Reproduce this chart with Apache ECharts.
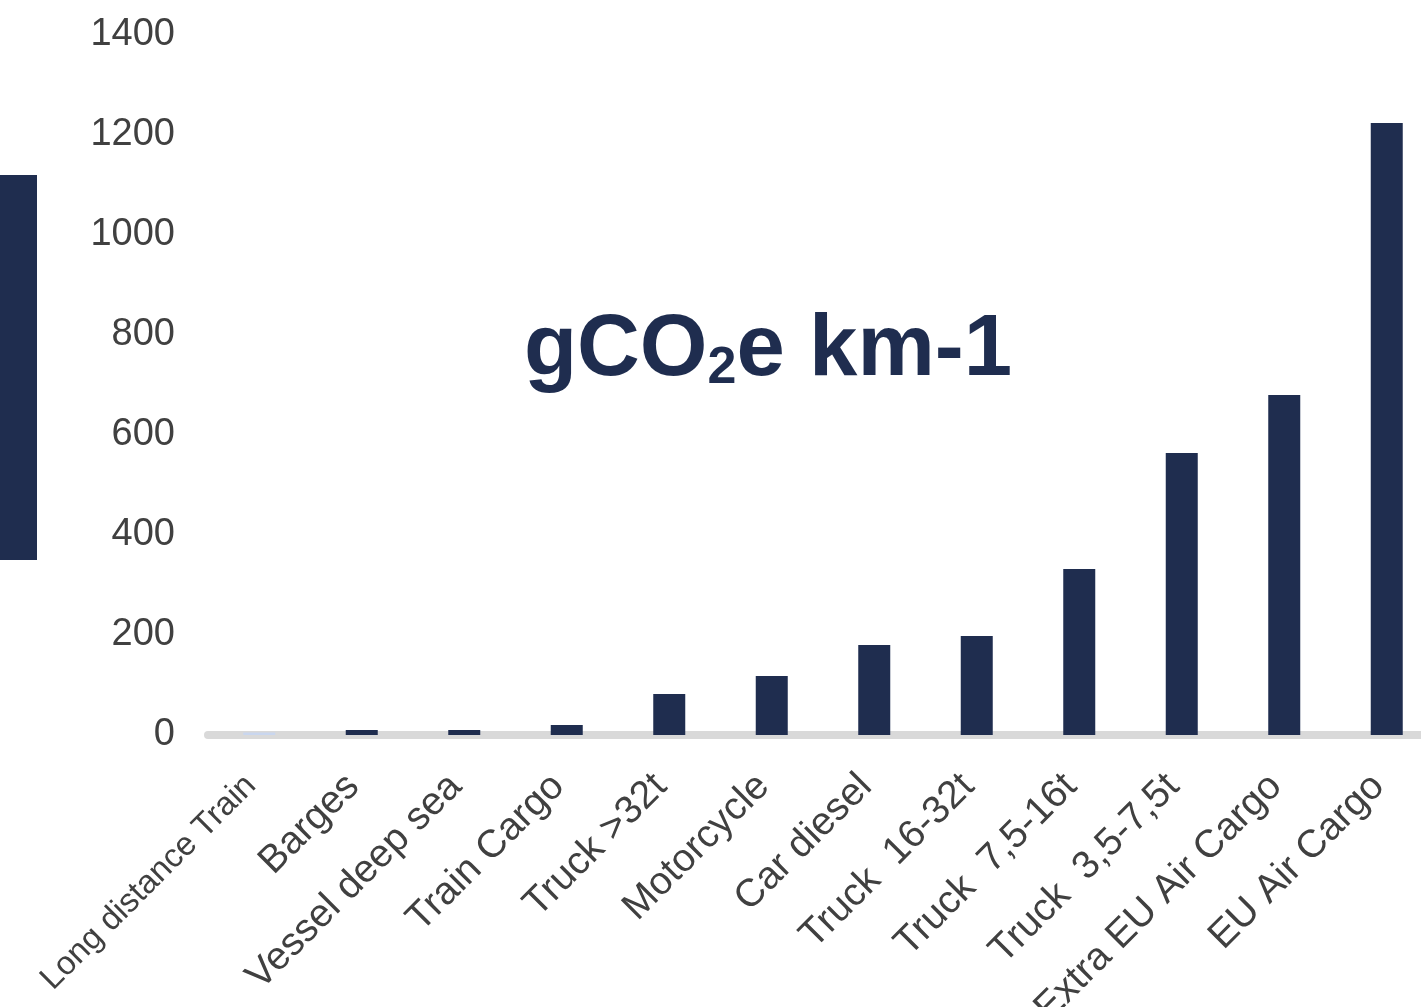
<!DOCTYPE html>
<html>
<head>
<meta charset="utf-8">
<script src="https://cdn.jsdelivr.net/npm/echarts@6/dist/echarts.min.js"></script>
<style>
html,body{margin:0;padding:0;background:#fff;}
#chart{width:1421px;height:1007px;}
</style>
</head>
<body>
<div id="chart"></div>
<script>
const categories = ['Long distance Train','Barges','Vessel deep sea','Train Cargo','Truck >32t','Motorcycle','Car diesel','Truck  16-32t','Truck  7,5-16t','Truck  3,5-7,5t','Extra EU Air Cargo','EU Air Cargo'];
const emissions = [5, 10, 10, 20, 82, 118, 180, 198, 332, 564, 680, 1224];
const yTicks = [0, 200, 400, 600, 800, 1000, 1200, 1400];

const FONT = 'Liberation Sans, Arial, sans-serif';
const NAVY = '#1f2d4f';

const chart = echarts.init(document.getElementById('chart'));
chart.setOption({
  animation: false,
  backgroundColor: '#ffffff',
  grid: { left: 208, right: -17, top: 35, bottom: 272, containLabel: false, outerBoundsMode: 'none' },
  xAxis: {
    type: 'category',
    data: categories,
    axisLine: { show: true, lineStyle: { color: '#d9d9d9', width: 8 } },
    axisTick: { show: false },
    axisLabel: {
      interval: 0,
      rotate: 45,
      margin: 37,
      padding: [0, 12, 0, 0],
      fontSize: 39,
      color: '#404040',
      fontFamily: FONT,
      formatter: function (v, i) { return i === 0 ? '{n|' + v + '}' : v; },
      rich: { n: { fontSize: 33, color: '#404040', fontFamily: FONT } }
    }
  },
  yAxis: {
    type: 'value',
    min: yTicks[0],
    max: yTicks[yTicks.length - 1],
    interval: yTicks[1] - yTicks[0],
    axisLine: { show: false },
    axisTick: { show: false },
    splitLine: { show: false },
    axisLabel: {
      fontSize: 38, color: '#404040', fontFamily: FONT, margin: 33, padding: [0, 0, 18, 0],
      formatter: function (v) { return String(v); }
    }
  },
  series: [{
    type: 'bar',
    barWidth: 32,
    data: emissions.map(function (v, i) {
      return i === 0 ? { value: v, itemStyle: { color: '#c9d6ee' } } : v;
    }),
    itemStyle: { color: NAVY }
  }],
  graphic: [
    { type: 'rect', shape: { x: 0, y: 175, width: 37, height: 385 }, style: { fill: NAVY } },
    {
      type: 'text', x: 768, y: 351,
      style: {
        text: '{a|gCO}{b|2}{a|e km-1}',
        align: 'center', verticalAlign: 'middle',
        rich: {
          a: { fontSize: 87, fontWeight: 'bold', fill: NAVY, fontFamily: FONT },
          b: { fontSize: 52, fontWeight: 'bold', fill: NAVY, fontFamily: FONT, verticalAlign: 'bottom' }
        }
      }
    }
  ]
});
</script>
</body>
</html>
